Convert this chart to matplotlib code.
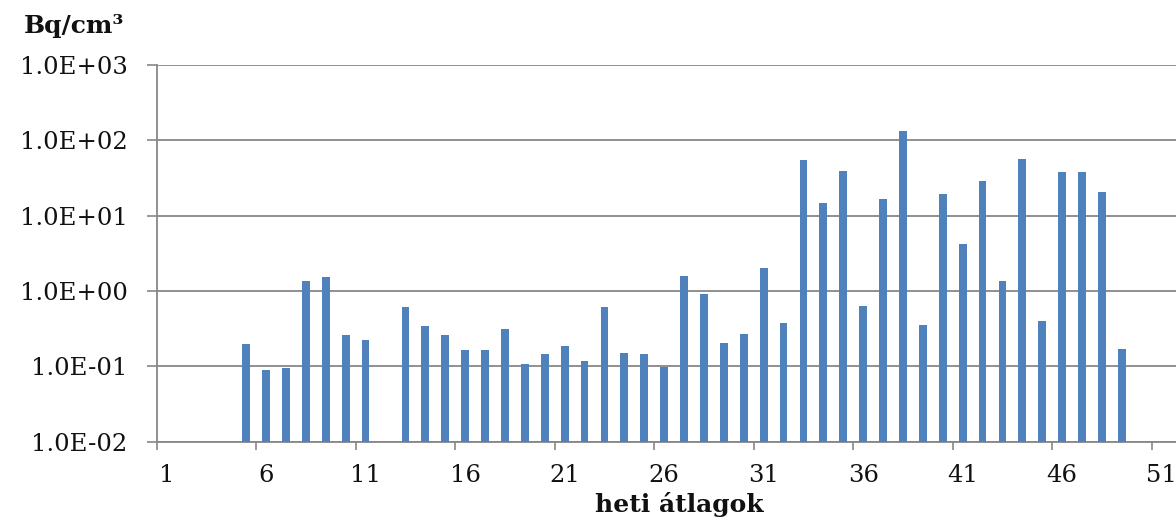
import numpy as np
import matplotlib
matplotlib.use("Agg")
import matplotlib.pyplot as plt
from matplotlib.ticker import FixedLocator, NullFormatter

# weekly averages (Bq/cm3), weeks without a measurement are left out
weeks = [5, 6, 7, 8, 9, 10, 11, 13, 14, 15, 16, 17, 18, 19, 20, 21, 22, 23,
         24, 25, 26, 27, 28, 29, 30, 31, 32, 33, 34, 35, 36, 37, 38, 39, 40,
         41, 42, 43, 44, 45, 46, 47, 48, 49]
activity = [0.197, 0.090, 0.094, 1.35, 1.51, 0.26, 0.22, 0.62, 0.34, 0.26,
            0.163, 0.163, 0.315, 0.106, 0.144, 0.184, 0.119, 0.62, 0.150,
            0.144, 0.099, 1.57, 0.91, 0.205, 0.27, 1.99, 0.37, 53.7, 14.7,
            39.2, 0.64, 16.5, 132.7, 0.356, 19.4, 4.22, 28.6, 1.35, 55.9,
            0.40, 37.6, 37.6, 20.8, 0.168]
y_ticks = [1e-2, 1e-1, 1e0, 1e1, 1e2, 1e3]
y_labels = ["1.0E-02", "1.0E-01", "1.0E+00", "1.0E+01", "1.0E+02", "1.0E+03"]
x_labels = list(range(1, 52, 5))

BAR = "#4f81bd"
GRID = "#878787"
INK = "#111111"

plt.rcParams["font.family"] = "DejaVu Serif"
plt.rcParams["text.color"] = INK

fig = plt.figure(figsize=(11.76, 5.21), dpi=100)
ax = fig.add_axes([0.1332, 0.1522, 0.8668, 0.7236])

ax.bar(weeks, activity, width=0.39, color=BAR, zorder=3)

ax.set_yscale("log")
ax.set_ylim(1e-2, 1e3)
ax.set_xlim(0.5, 51.72)

ax.yaxis.set_major_locator(FixedLocator(y_ticks))
ax.set_yticklabels(y_labels)
ax.yaxis.set_minor_locator(FixedLocator([]))
ax.tick_params(axis="y", which="major", length=7, width=1.2, color=GRID,
               pad=14, labelsize=17.5, labelcolor=INK)
ax.grid(axis="y", color=GRID, lw=1.3, zorder=0)

# tick marks sit between categories, labels in the middle of each category
ax.xaxis.set_major_locator(FixedLocator(np.arange(0.5, 52, 5)))
ax.xaxis.set_major_formatter(NullFormatter())
ax.xaxis.set_minor_locator(FixedLocator(x_labels))
ax.set_xticklabels([str(v) for v in x_labels], minor=True)
ax.tick_params(axis="x", which="major", length=6, width=1.2, color=GRID)
ax.tick_params(axis="x", which="minor", length=0, pad=16, labelsize=17.5,
               labelcolor=INK)

for side in ("top", "right"):
    ax.spines[side].set_visible(False)
for side in ("left", "bottom"):
    ax.spines[side].set_color(GRID)
    ax.spines[side].set_linewidth(1.3)

fig.text(0.0204, 0.937, "Bq/cm³", fontsize=18, fontweight="bold",
         ha="left", va="baseline")
fig.text(0.578, 0.018, "heti átlagok", fontsize=18, fontweight="bold",
         ha="center", va="baseline")

fig.savefig("out.png", dpi=100)
